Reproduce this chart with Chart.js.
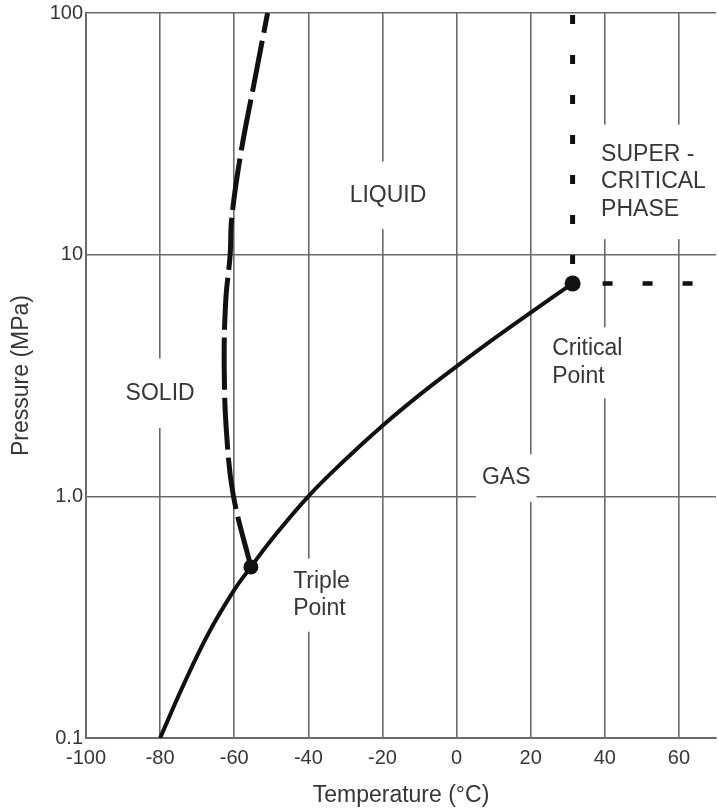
<!DOCTYPE html>
<html>
<head>
<meta charset="utf-8">
<title>CO2 phase diagram</title>
<script src="https://cdn.jsdelivr.net/npm/chart.js@4.4.0/dist/chart.umd.min.js"></script>
<style>
  html, body { margin: 0; padding: 0; background: #fff; }
</style>
</head>
<body>
<canvas id="phase" width="718" height="812"></canvas>
<script>
// temperature in °C, pressure in MPa
const xTicks = [-100, -80, -60, -40, -20, 0, 20, 40, 60];
const yTicks = [0.1, 1, 10, 100];
const yTickLabels = ['0.1', '1.0', '10', '100'];

// sublimation + boiling curve, ends at the critical point
const vaporTemp = [-80, -74, -67, -60, -55.5, -50, -40, -30, -20, -10, 0, 10, 20, 31.3];
const vaporPress = [0.1, 0.162, 0.27, 0.41, 0.51, 0.66, 1.0, 1.42, 1.96, 2.63, 3.45, 4.48, 5.76, 7.6];

// melting curve, from the triple point upward
const meltTemp = [-55.5, -60.2, -62.0, -62.7, -62.3, -61.1, -60.7, -58.4, -54.4, -51.0];
const meltPress = [0.51, 1.0, 1.76, 3.37, 6.41, 10, 14.0, 25.3, 53.5, 100];

const triplePoint = [-55.5, 0.51];
const criticalPoint = [31.3, 7.6];

const tempMin = -100, tempMax = 70;
const pressMin = 0.1, pressMax = 100;

// region names, placed in data units
const regionLabels = [
  { text: ['SOLID'], x: -80, y: 2.67, align: 'center', pad: 25 },
  { text: ['LIQUID'], x: -18.5, y: 17.6, align: 'center', pad: 24 },
  { text: ['GAS'], x: 13.4, y: 1.19, align: 'center', pad: 14 },
  { text: ['Triple', 'Point'], x: -44.1, y: 0.39, align: 'left', pad: 13 },
  { text: ['Critical', 'Point'], x: 25.8, y: 3.57, align: 'left', pad: 12 },
  { text: ['SUPER -', 'CRITICAL', 'PHASE'], x: 39, y: 20, align: 'left', pad: 20 }
];

const gridColor = '#6a6a6a';
const textColor = '#363636';
const lineColor = '#111';
const fontFamily = '"Liberation Sans", Arial, Helvetica, sans-serif';

Chart.defaults.font.family = fontFamily;

const toPoints = (xs, ys) => xs.map((x, i) => ({ x: x, y: ys[i] }));

// white boxes behind the labels so the grid breaks around the text
const labelBoxes = {
  id: 'labelBoxes',
  beforeDatasetsDraw(chart) {
    const ctx = chart.ctx;
    const xs = chart.scales.x;
    const ys = chart.scales.y;
    const lineH = 27.5;
    ctx.save();
    ctx.font = '23px ' + fontFamily;
    ctx.textBaseline = 'middle';
    regionLabels.forEach((lbl) => {
      const px = xs.getPixelForValue(lbl.x);
      const py = ys.getPixelForValue(lbl.y);
      const w = Math.max(...lbl.text.map(t => ctx.measureText(t).width));
      const h = lbl.text.length * lineH;
      const left = lbl.align === 'center' ? px - w / 2 : px;
      ctx.fillStyle = '#fff';
      ctx.fillRect(left - 6, py - h / 2 - lbl.pad + 4, w + 12, h + lbl.pad * 2 - 8);
      ctx.fillStyle = textColor;
      ctx.textAlign = lbl.align;
      lbl.text.forEach((t, i) => {
        ctx.fillText(t, px, py - h / 2 + lineH * (i + 0.5));
      });
    });
    ctx.restore();
  }
};

new Chart(document.getElementById('phase'), {
  type: 'scatter',
  data: {
    datasets: [
      {
        data: [{ x: triplePoint[0], y: triplePoint[1] }],
        pointRadius: 7.5,
        backgroundColor: lineColor,
        borderWidth: 0
      },
      {
        data: [{ x: criticalPoint[0], y: criticalPoint[1] }],
        pointRadius: 8,
        backgroundColor: lineColor,
        borderWidth: 0
      },
      {
        data: toPoints(vaporTemp, vaporPress),
        showLine: true,
        borderColor: lineColor,
        borderWidth: 4,
        pointRadius: 0,
        tension: 0.4
      },
      {
        data: toPoints(meltTemp, meltPress),
        showLine: true,
        borderColor: lineColor,
        borderWidth: 5,
        borderDash: [52, 8],
        borderCapStyle: 'butt',
        pointRadius: 0,
        tension: 0.4
      },
      {
        // critical temperature, upward
        data: [{ x: criticalPoint[0], y: pressMax }, { x: criticalPoint[0], y: criticalPoint[1] }],
        showLine: true,
        borderColor: lineColor,
        borderWidth: 5,
        borderDash: [9, 31],
        borderDashOffset: -2,
        pointRadius: 0
      },
      {
        // critical pressure, to the right
        data: [{ x: criticalPoint[0], y: criticalPoint[1] }, { x: tempMax, y: criticalPoint[1] }],
        showLine: true,
        borderColor: lineColor,
        borderWidth: 4.5,
        borderDash: [10, 30],
        borderDashOffset: 10,
        pointRadius: 0
      }
    ]
  },
  options: {
    responsive: false,
    animation: false,
    layout: { autoPadding: false, padding: { top: 13, right: 2, left: 0, bottom: 0 } },
    plugins: {
      legend: { display: false },
      tooltip: { enabled: false }
    },
    scales: {
      x: {
        type: 'linear',
        min: tempMin,
        max: tempMax,
        afterBuildTicks: (scale) => { scale.ticks = xTicks.map(v => ({ value: v })); },
        afterFit: (scale) => {
          scale.height = 74;
          scale.paddingLeft = 0;
          scale.paddingRight = 0;
        },
        grid: { color: gridColor, lineWidth: 1.6, drawTicks: false },
        border: { color: gridColor, width: 2 },
        ticks: {
          padding: 8,
          color: textColor,
          font: { size: 20 },
          callback: (v) => String(v)
        },
        title: {
          display: true,
          text: 'Temperature (°C)',
          color: textColor,
          font: { size: 23 },
          padding: { top: 0, bottom: 3 }
        }
      },
      y: {
        type: 'logarithmic',
        min: pressMin,
        max: pressMax,
        afterBuildTicks: (scale) => { scale.ticks = yTicks.map(v => ({ value: v })); },
        afterFit: (scale) => { scale.width = 86; },
        grid: { color: gridColor, lineWidth: 1.6, drawTicks: false },
        border: { color: gridColor, width: 2 },
        ticks: {
          padding: 3,
          color: textColor,
          font: { size: 20, lineHeight: 1 },
          callback: (v, i) => yTickLabels[i]
        },
        title: {
          display: true,
          text: 'Pressure (MPa)',
          color: textColor,
          font: { size: 23 },
          padding: { top: 8, bottom: 0 }
        }
      }
    }
  },
  plugins: [labelBoxes]
});
</script>
</body>
</html>
